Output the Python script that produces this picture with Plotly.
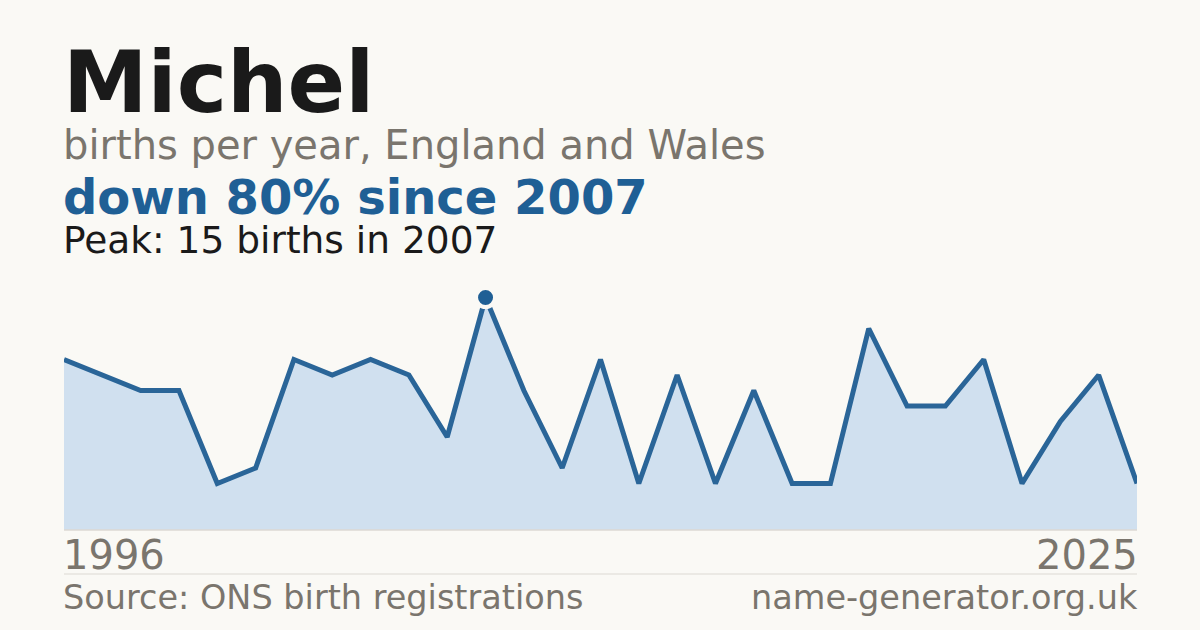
import plotly.graph_objects as go

# births per year for the name, England and Wales
years = list(range(1996, 2025))
births = [11, 10, 9, 9, 3, 4, 11, 10, 11, 10, 6, 15, 9, 4, 11, 3,
          10, 3, 9, 3, 3, 13, 8, 8, 11, 3, 7, 10, 3]
year_labels = ["1996", "2025"]

name = "Michel"
subtitle = "births per year, England and Wales"
source = "Source: ONS birth registrations"
site = "name-generator.org.uk"

BG = "#faf9f5"
BLUE = "#1f5f95"
GREY = "#7a756d"
INK = "#1a1a1a"
FONT = "DejaVu Sans"

peak = max(births)
peak_year = years[births.index(peak)]
change = round((births[-1] - peak) / peak * 100)

# plot area in pixels
W, H = 1200, 630
L, R, T, B = 64, 1137, 282, 530


def py(px):
    # page pixel row -> paper y
    return (B - px) / (B - T)


fig = go.Figure()
fig.add_trace(go.Scatter(
    x=years, y=births, mode="lines",
    line=dict(color="#2a6598", width=5),
    fill="tozeroy", fillcolor="#d0e0ef",
    hoverinfo="skip",
))
fig.add_trace(go.Scatter(
    x=[peak_year], y=[peak], mode="markers",
    marker=dict(size=19, color=BLUE, line=dict(color=BG, width=4)),
    cliponaxis=False, hoverinfo="skip",
))

texts = [
    (name, 0, 82, 85, INK, "left", True),
    (subtitle, 0, 145, 40, GREY, "left", False),
    (f"down {abs(change)}% since {peak_year}", 0, 197, 48, BLUE, "left", True),
    (f"Peak: {peak} births in {peak_year}", 0, 240, 37.5, INK, "left", False),
    (source, 0, 597, 33.5, GREY, "left", False),
    (site, 1, 597, 33.5, GREY, "right", False),
]
for txt, xp, ypx, size, col, anchor, bold in texts:
    fig.add_annotation(
        text=f"<b>{txt}</b>" if bold else txt,
        xref="paper", yref="paper", x=xp, y=py(ypx),
        xanchor=anchor, yanchor="middle", showarrow=False,
        xshift=-3 if anchor == "left" else 3,
        font=dict(family=FONT, size=size, color=col),
    )

fig.add_annotation(text=year_labels[0], xref="x", yref="paper",
                   x=years[0], y=py(555), xanchor="left", yanchor="middle",
                   xshift=-3, showarrow=False,
                   font=dict(family=FONT, size=40, color=GREY))
fig.add_annotation(text=year_labels[1], xref="x", yref="paper",
                   x=years[-1], y=py(555), xanchor="right", yanchor="middle",
                   xshift=3, showarrow=False,
                   font=dict(family=FONT, size=40, color=GREY))

# baseline and separator
fig.add_shape(type="line", xref="paper", yref="paper", x0=0, x1=1, y0=0, y1=0,
              line=dict(color="#dcd9d3", width=1.5))
fig.add_shape(type="line", xref="paper", yref="paper", x0=0, x1=1,
              y0=py(574), y1=py(574), line=dict(color="#dcd9d3", width=1))

fig.update_xaxes(range=[years[0], years[-1]], visible=False)
fig.update_yaxes(range=[0, 16], visible=False)
fig.update_layout(
    width=W, height=H,
    margin=dict(l=L, r=W - R, t=T, b=H - B),
    paper_bgcolor=BG, plot_bgcolor=BG,
    showlegend=False,
)

fig.write_html("out.html", config={"displayModeBar": False},
               post_script="document.body.style.margin='0';")
